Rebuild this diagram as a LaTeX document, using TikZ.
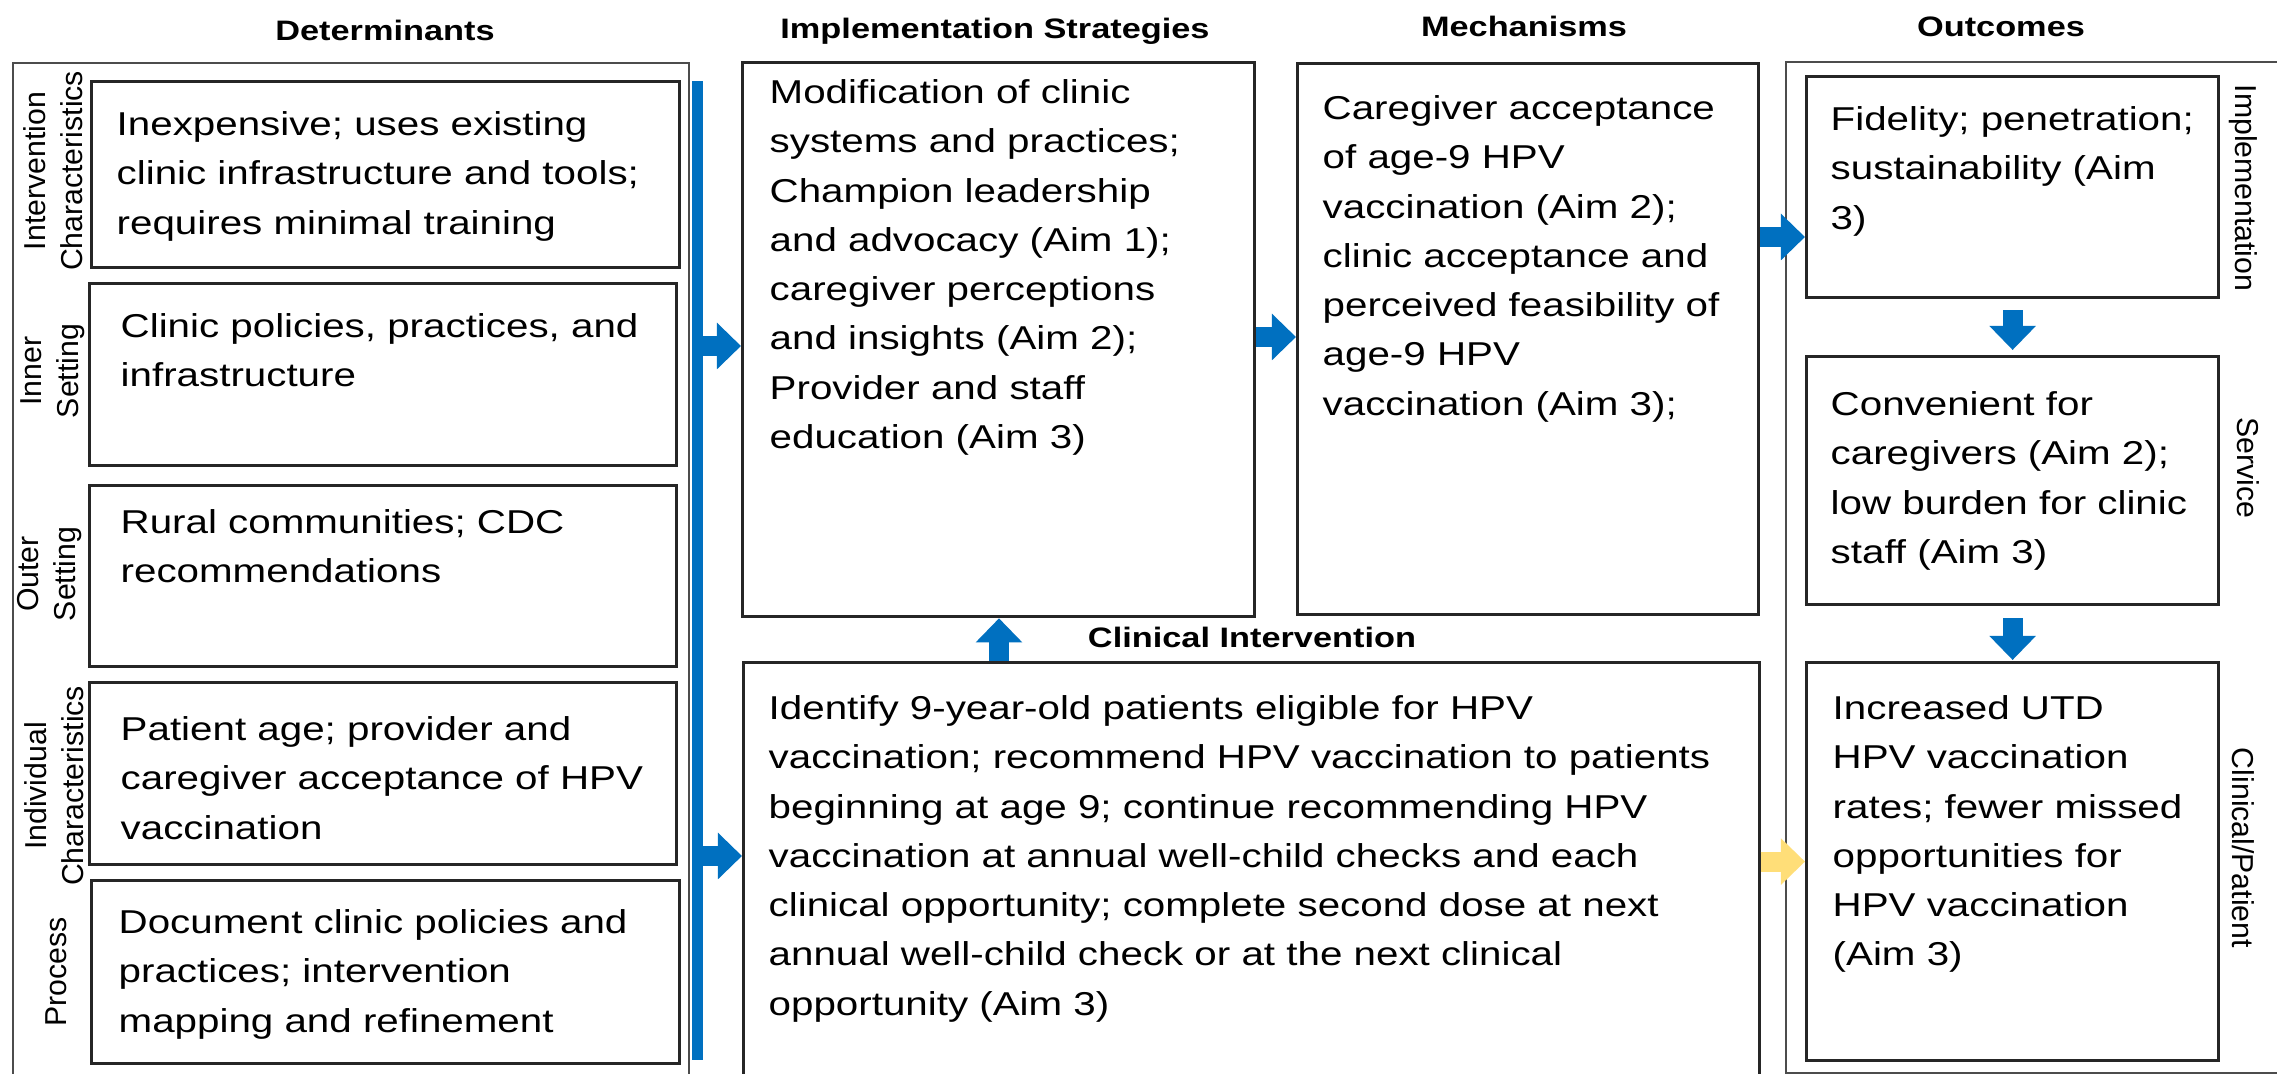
\documentclass[tikz,border=0pt]{standalone}
\usepackage{fontspec}
\setmainfont{Liberation Sans}[FakeStretch=1.22]
\newfontfamily\sidefont{Liberation Sans}
\usetikzlibrary{arrows.meta}
\definecolor{cfirblue}{RGB}{0,112,192}
\definecolor{cfiryellow}{RGB}{255,222,120}

\begin{document}
\begin{tikzpicture}[
        x=0.01cm, y=-0.01cm,
        outerbox/.style ={draw=black!70, line width=0.02cm, inner sep=0, anchor=north west},
        inbox/.style    ={draw=black!85, line width=0.03cm, inner sep=0, anchor=north west},
        txt/.style      ={anchor=north west, inner sep=0, align=left, font=\fontsize{9.4}{14}\selectfont},
        ttl/.style      ={anchor=base, inner sep=0, font=\bfseries\fontsize{8}{10}\selectfont},
        sidelbl/.style  ={inner sep=0, align=center, font=\sidefont\fontsize{8.6}{10.5}\selectfont},
        flow/.style     ={cfirblue, line width=0.2cm, -{Triangle[width=0.45cm,length=0.24cm]}},
        weak/.style     ={flow, cfiryellow}
    ]
    \fill[white, use as bounding box] (0,0) rectangle (2277,1074);

    %-----------------  Determinants  --------------------
    \node[ttl] (detttl) at (385,41) {Determinants};
    \node[outerbox, minimum width=6.76cm, minimum height=10.25cm] (detframe) at (12,62) {};

    \node[inbox, minimum width=5.88cm, minimum height=1.86cm] (detA) at (90,80) {};
    \node[inbox, minimum width=5.87cm, minimum height=1.82cm] (detB) at (88,282) {};
    \node[inbox, minimum width=5.87cm, minimum height=1.81cm] (detC) at (88,484) {};
    \node[inbox, minimum width=5.87cm, minimum height=1.82cm] (detD) at (88,681) {};
    \node[inbox, minimum width=5.88cm, minimum height=1.83cm] (detE) at (90,879) {};

    \node[txt] (detAtxt) at ([shift={(26,31)}]detA.north west)
        {Inexpensive; uses existing\\clinic infrastructure and tools;\\requires minimal training};
    \node[txt] (detBtxt) at ([shift={(32,31)}]detB.north west)
        {Clinic policies, practices, and\\infrastructure};
    \node[txt] (detCtxt) at ([shift={(32,25)}]detC.north west)
        {Rural communities; CDC\\recommendations};
    \node[txt] (detDtxt) at ([shift={(32,35)}]detD.north west)
        {Patient age; provider and\\caregiver acceptance of HPV\\vaccination};
    \node[txt] (detEtxt) at ([shift={(28,30)}]detE.north west)
        {Document clinic policies and\\practices; intervention\\mapping and refinement};

    % side labels
    \node[sidelbl, rotate=90] (lblA) at (53,171) {Intervention\\Characteristics};
    \node[sidelbl, rotate=90] (lblB) at (53,371) {Inner\\Setting};
    \node[sidelbl, rotate=90] (lblC) at (50,574) {Outer\\Setting};
    \node[sidelbl, rotate=90] (lblD) at (54,786) {Individual\\Characteristics};
    \node[sidelbl, rotate=90] (lblE) at (56,972) {Process};

    % blue collector bar
    \node[fill=cfirblue, inner sep=0, anchor=north west, minimum width=0.11cm, minimum height=9.79cm] (bar) at (691,80) {};

    %-----------------  Implementation strategies  --------------------
    \node[ttl] (implttl) at (995,39) {Implementation Strategies};
    \node[inbox, minimum width=5.12cm, minimum height=5.54cm] (impl) at (741,61) {};
    \node[txt] (impltxt) at ([shift={(28,18)}]impl.north west)
        {Modification of clinic\\systems and practices;\\Champion leadership\\and advocacy (Aim 1);\\caregiver perceptions\\and insights (Aim 2);\\Provider and staff\\education (Aim 3)};

    %-----------------  Mechanisms  --------------------
    \node[ttl] (mechttl) at (1524,37) {Mechanisms};
    \node[inbox, minimum width=4.61cm, minimum height=5.51cm] (mech) at (1296,62) {};
    \node[txt] (mechtxt) at ([shift={(26,33)}]mech.north west)
        {Caregiver acceptance\\of age-9 HPV\\vaccination (Aim 2);\\clinic acceptance and\\perceived feasibility of\\age-9 HPV\\vaccination (Aim 3);};

    %-----------------  Clinical intervention  --------------------
    \node[ttl] (clinttl) at (1252,648) {Clinical Intervention};
    \node[inbox, minimum width=10.15cm, minimum height=4.30cm] (clin) at (742,661) {};
    \node[txt] (clintxt) at ([shift={(26,34)}]clin.north west)
        {Identify 9-year-old patients eligible for HPV\\vaccination; recommend HPV vaccination to patients\\beginning at age 9; continue recommending HPV\\vaccination at annual well-child checks and each\\clinical opportunity; complete second dose at next\\annual well-child check or at the next clinical\\opportunity (Aim 3)};

    %-----------------  Outcomes  --------------------
    \node[ttl] (outttl) at (2001,37) {Outcomes};
    \node[outerbox, minimum width=5.10cm, minimum height=10.10cm] (outframe) at (1785,61) {};

    \node[inbox, minimum width=4.12cm, minimum height=2.21cm] (o1) at (1805,75) {};
    \node[inbox, minimum width=4.12cm, minimum height=2.48cm] (o2) at (1805,355) {};
    \node[inbox, minimum width=4.12cm, minimum height=3.98cm] (o3) at (1805,661) {};

    \node[txt] (o1txt) at ([shift={(25,31)}]o1.north west)
        {Fidelity; penetration;\\sustainability (Aim\\3)};
    \node[txt] (o2txt) at ([shift={(25,36)}]o2.north west)
        {Convenient for\\caregivers (Aim 2);\\low burden for clinic\\staff (Aim 3)};
    \node[txt] (o3txt) at ([shift={(27,34)}]o3.north west)
        {Increased UTD\\HPV vaccination\\rates; fewer missed\\opportunities for\\HPV vaccination\\(Aim 3)};

    \node[sidelbl, rotate=-90] (lblO1) at (2243,188) {Implementation};
    \node[sidelbl, rotate=-90] (lblO2) at (2248,468) {Service};
    \node[sidelbl, rotate=-90] (lblO3) at (2243,848) {Clinical/Patient};

    %-----------------  Arrows  --------------------
    \draw[flow] (bar.east |- 0,346) -- (impl.west |- 0,346);
    \draw[flow] (bar.east |- 0,856) -- (clin.west |- 0,856);
    \draw[flow] (impl.east |- 0,337) -- (mech.west |- 0,337);
    \draw[flow] (mech.east |- 0,237) -- (o1.west |- 0,237);
    \draw[flow] (clin.north -| 999,0) -- (impl.south -| 999,0);
    \draw[flow, shorten <=0.11cm, shorten >=0.05cm] (o1.south) -- (o2.north);
    \draw[flow, shorten <=0.12cm, shorten >=0.01cm] (o2.south) -- (o3.north);
    \draw[weak] (clin.east |- o3.west) -- (o3.west);
\end{tikzpicture}
\end{document}
